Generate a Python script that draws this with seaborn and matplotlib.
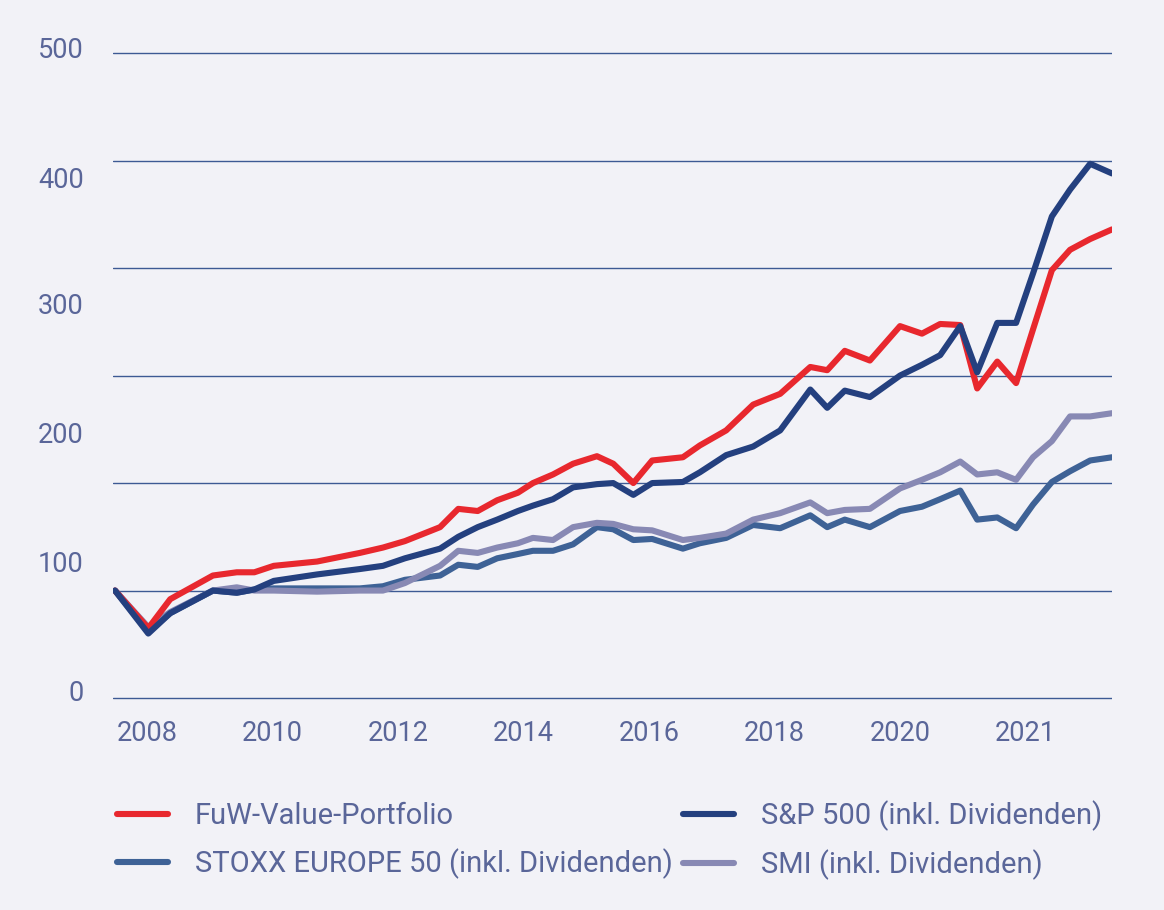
import matplotlib
matplotlib.use("Agg")
import matplotlib.pyplot as plt
import pandas as pd
import seaborn as sns

DATES = [2007.49, 2008.02, 2008.37, 2009.05, 2009.43, 2009.71, 2010.02, 2010.71,
         2011.39, 2011.76, 2012.11, 2012.67, 2012.96, 2013.27, 2013.58, 2013.91,
         2014.15, 2014.47, 2014.79, 2015.17, 2015.43, 2015.75, 2016.05, 2016.54,
         2016.81, 2017.23, 2017.66, 2018.09, 2018.57, 2018.84, 2019.12, 2019.52,
         2020.00, 2020.35, 2020.64, 2020.96, 2021.23, 2021.55, 2021.85, 2022.12,
         2022.42, 2022.71, 2023.03, 2023.38]

FUW = [100, 65, 92, 114, 117, 117, 123, 127, 135, 140, 146, 159, 176, 174, 184, 191,
       200, 208, 218, 225, 218, 200, 221, 224, 235, 249, 273, 283, 308, 305, 323, 314,
       346, 339, 348, 347, 288, 313, 293, 343, 398, 417, 427, 436]

SP500 = [100, 60, 79, 100, 98, 101, 109, 115, 120, 123, 130, 139, 150, 159, 166, 174,
         179, 185, 196, 199, 200, 189, 200, 201, 210, 226, 234, 249, 287, 270, 286, 280,
         300, 310, 319, 346, 303, 349, 349, 395, 448, 473, 497, 488]

STOXX50 = [100, 62, 79, 100, 98, 101, 102, 102, 102, 104, 110, 114, 124, 122, 130, 134,
           137, 137, 143, 159, 157, 147, 148, 139, 144, 149, 161, 158, 170, 159, 166, 159,
           174, 178, 185, 193, 166, 168, 158, 180, 201, 211, 221, 224]

SMI = [100, 66, 80, 100, 103, 100, 100, 99, 100, 100, 107, 123, 137, 135, 140, 144,
       149, 147, 159, 163, 162, 157, 156, 147, 149, 153, 166, 172, 182, 172, 175, 176,
       195, 203, 210, 220, 208, 210, 203, 224, 239, 262, 262, 265]

NAME_FUW = "FuW-Value-Portfolio"
NAME_SP = "S&P 500 (inkl. Dividenden)"
NAME_STOXX = "STOXX EUROPE 50 (inkl. Dividenden)"
NAME_SMI = "SMI (inkl. Dividenden)"

GRID_LEVELS = [0, 100, 200, 300, 400, 500, 600]
# the original labels sit off the gridlines; keep them where they are printed
YTICK_POS = [7, 127, 247, 367, 484, 605]
YTICK_LABELS = ["0", "100", "200", "300", "400", "500"]
XTICK_POS = [2008, 2010, 2012, 2014, 2016, 2018, 2020, 2022]
XTICK_LABELS = ["2008", "2010", "2012", "2014", "2016", "2018", "2020", "2021"]

PALETTE = {
    NAME_FUW: "#e8282e",
    NAME_SP: "#24407f",
    NAME_STOXX: "#3e6296",
    NAME_SMI: "#8889b4",
}
DRAW_ORDER = [NAME_STOXX, NAME_SMI, NAME_FUW, NAME_SP]
LEGEND_ORDER = [NAME_FUW, NAME_STOXX, NAME_SP, NAME_SMI]  # filled column-wise

BG = "#f2f2f7"
TEXT = "#5a6699"
GRID = "#3d5a94"
TICK_SIZE = 19.5
LEGEND_SIZE = 21


def build_frame() -> pd.DataFrame:
    parts = []
    for name, vals in [(NAME_FUW, FUW), (NAME_SP, SP500),
                       (NAME_STOXX, STOXX50), (NAME_SMI, SMI)]:
        parts.append(pd.DataFrame({"date": DATES, "value": vals, "series": name}))
    return pd.concat(parts, ignore_index=True)


def main():
    sns.set_theme(style="white")
    plt.rcParams["font.family"] = ["Roboto", "DejaVu Sans"]

    df = build_frame()

    fig = plt.figure(figsize=(11.64, 9.10), dpi=100, facecolor=BG)
    ax = fig.add_axes([0.0971, 0.2270, 0.8582, 0.7383])
    ax.set_facecolor(BG)

    for lvl in GRID_LEVELS:
        ax.axhline(lvl, color=GRID, lw=1.0, zorder=1)

    sns.lineplot(
        data=df, x="date", y="value", hue="series",
        hue_order=DRAW_ORDER, palette=PALETTE,
        lw=4.4, ax=ax, legend=True, zorder=3,
    )
    for line in ax.get_lines():
        line.set_solid_joinstyle("round")
        line.set_solid_capstyle("round")

    handles, labels = ax.get_legend_handles_labels()
    lookup = dict(zip(labels, handles))
    ax.get_legend().remove()

    ax.set_xlim(2007.458, 2023.378)
    ax.set_ylim(-5, 620)
    ax.set_yticks(YTICK_POS, YTICK_LABELS)
    ax.set_xticks(XTICK_POS, XTICK_LABELS)
    ax.tick_params(axis="both", length=0, labelsize=TICK_SIZE, labelcolor=TEXT)
    ax.tick_params(axis="y", pad=21)
    ax.tick_params(axis="x", pad=12)
    ax.set_xlabel("")
    ax.set_ylabel("")
    sns.despine(ax=ax, left=True, bottom=True)

    leg = fig.legend(
        [lookup[n] for n in LEGEND_ORDER], LEGEND_ORDER,
        ncol=2, loc="upper left", bbox_to_anchor=(117 / 1164, 1 - 800 / 910),
        frameon=False, fontsize=LEGEND_SIZE, labelcolor=TEXT,
        handlelength=1.75, handletextpad=0.92, columnspacing=0.35,
        labelspacing=0.63, borderpad=0, borderaxespad=0,
    )
    for h in leg.legend_handles:
        h.set_linewidth(4.4)

    fig.savefig("out.png", dpi=100, facecolor=BG)
    plt.close(fig)


if __name__ == "__main__":
    main()
